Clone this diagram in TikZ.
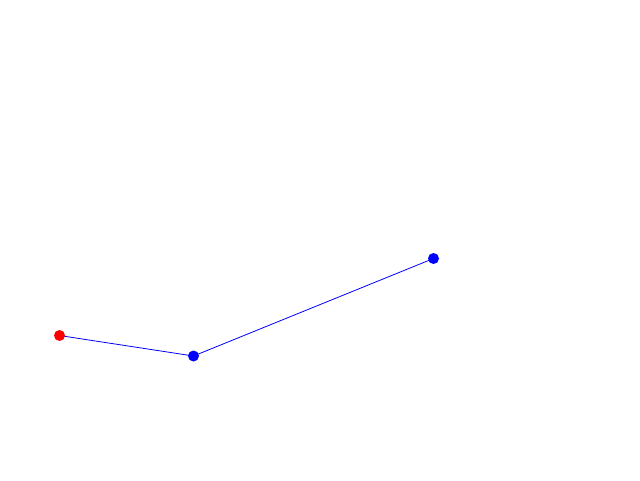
\documentclass[tikz,border=0pt]{standalone}
\usetikzlibrary{backgrounds}
\begin{document}
\begin{tikzpicture}[x=1pt,y=-1pt,
  dotred/.style={circle,fill=red,inner sep=0pt,minimum size=11pt},
  dotblue/.style={circle,fill=blue,inner sep=0pt,minimum size=11pt},
  link/.style={draw=blue,line width=0.8pt}]
\useasboundingbox (0,0) rectangle (640,480);
\node[dotred] (a) at (59.5,335.5) {};
\node[dotblue] (b) at (193.5,356) {};
\node[dotblue] (c) at (433.5,258.5) {};
\begin{scope}[on background layer]
\fill[white] (0,0) rectangle (640,480);
\draw[link] (a.center) -- (b.center) -- (c.center);
\end{scope}
\end{tikzpicture}
\end{document}
